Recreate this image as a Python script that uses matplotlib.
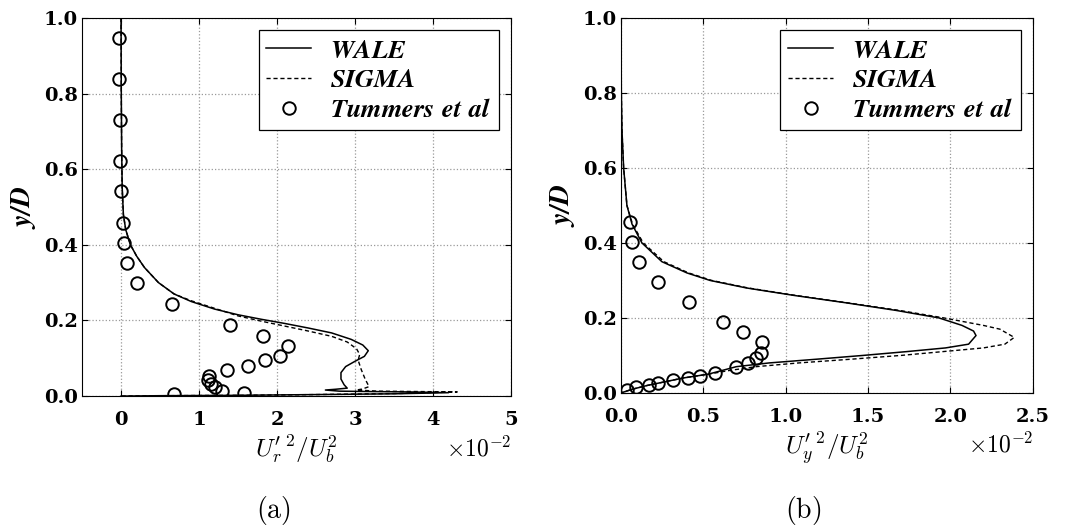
import matplotlib
matplotlib.use('Agg')
import matplotlib.pyplot as plt

plt.rcParams['mathtext.fontset'] = 'cm'
plt.rcParams['font.family'] = 'serif'
plt.rcParams['font.serif'] = ['DejaVu Serif']

# ---- panel (a): radial fluctuation, values in units of 1e-2 ----
exp_a_x = [-0.02, -0.02, -0.01, -0.01, 0.0, 0.02, 0.04, 0.07, 0.21, 0.65, 1.40, 1.82,
           2.14, 2.04, 1.85, 1.63, 1.36, 1.13, 1.11, 1.15, 1.20, 1.29, 0.68, 1.58]
exp_a_y = [0.947, 0.838, 0.729, 0.622, 0.542, 0.457, 0.404, 0.351, 0.298, 0.243, 0.188, 0.160,
           0.133, 0.107, 0.095, 0.079, 0.068, 0.053, 0.042, 0.033, 0.023, 0.013, 0.005, 0.007]

wale_a_x = [0.0, 0.003, 0.008, 0.015, 0.03, 0.06, 0.12, 0.2, 0.3, 0.48, 0.68, 0.9, 1.2, 1.5,
            1.8, 2.1, 2.4, 2.7, 2.95, 3.1, 3.17, 3.12, 3.0, 2.88, 2.82, 2.82, 2.86, 2.9,
            2.75, 2.62, 2.8, 3.2, 3.7, 4.2, 3.5, 2.5, 1.5, 0.5, 0.0]
wale_a_y = [1.0, 0.8, 0.65, 0.55, 0.48, 0.44, 0.40, 0.37, 0.34, 0.30, 0.27, 0.25, 0.23, 0.215,
            0.203, 0.192, 0.18, 0.167, 0.15, 0.135, 0.12, 0.105, 0.092, 0.078, 0.062, 0.045, 0.03, 0.021,
            0.018, 0.016, 0.013, 0.012, 0.011, 0.009, 0.006, 0.004, 0.002, 0.001, 0.0]

sigma_a_x = [0.0, 0.003, 0.008, 0.015, 0.03, 0.06, 0.12, 0.2, 0.3, 0.48, 0.68, 0.9, 1.2, 1.5,
             1.8, 2.1, 2.4, 2.7, 2.9, 3.02, 3.06, 3.04, 3.08, 3.13, 3.18, 3.1, 3.02, 3.3,
             3.8, 4.31, 3.6, 2.5, 1.5, 0.5, 0.0]
sigma_a_y = [1.0, 0.8, 0.65, 0.55, 0.48, 0.44, 0.40, 0.37, 0.34, 0.30, 0.27, 0.252, 0.232, 0.212,
             0.198, 0.185, 0.172, 0.158, 0.143, 0.125, 0.11, 0.095, 0.07, 0.045, 0.025, 0.019, 0.016, 0.013,
             0.012, 0.011, 0.007, 0.004, 0.002, 0.001, 0.0]

# ---- panel (b): wall-normal fluctuation, values in units of 1e-2 ----
exp_b_x = [0.052, 0.069, 0.111, 0.222, 0.41, 0.62, 0.739, 0.853, 0.847, 0.82, 0.769, 0.696,
           0.569, 0.48, 0.406, 0.314, 0.225, 0.173, 0.094, 0.039]
exp_b_y = [0.455, 0.402, 0.348, 0.295, 0.242, 0.189, 0.162, 0.135, 0.107, 0.093, 0.079, 0.068,
           0.052, 0.045, 0.040, 0.035, 0.026, 0.022, 0.015, 0.009]

wale_b_x = [0.0, 0.002, 0.006, 0.016, 0.036, 0.067, 0.127, 0.248, 0.40, 0.54, 0.76, 1.05, 1.37,
            1.67, 1.93, 2.07, 2.14, 2.155, 2.11, 1.97, 1.73, 1.47, 1.19, 0.90, 0.70, 0.53,
            0.38, 0.27, 0.16, 0.07, 0.0]
wale_b_y = [1.0, 0.8, 0.7, 0.6, 0.5, 0.45, 0.40, 0.35, 0.32, 0.30, 0.28, 0.26, 0.24,
            0.22, 0.20, 0.18, 0.165, 0.153, 0.13, 0.12, 0.11, 0.10, 0.09, 0.08, 0.07, 0.05,
            0.04, 0.03, 0.02, 0.01, 0.0]

sigma_b_x = [0.0, 0.002, 0.006, 0.016, 0.036, 0.07, 0.135, 0.26, 0.41, 0.55, 0.77, 1.06, 1.38,
             1.69, 1.96, 2.2, 2.3, 2.387, 2.33, 2.2, 1.95, 1.7, 1.4, 1.08, 0.82, 0.66, 0.53,
             0.38, 0.27, 0.16, 0.07, 0.0]
sigma_b_y = [1.0, 0.8, 0.7, 0.6, 0.5, 0.45, 0.40, 0.35, 0.32, 0.30, 0.28, 0.26, 0.24,
             0.22, 0.20, 0.18, 0.17, 0.148, 0.13, 0.12, 0.11, 0.10, 0.09, 0.08, 0.07, 0.06, 0.05,
             0.04, 0.03, 0.02, 0.01, 0.0]

y_ticks = [0.0, 0.2, 0.4, 0.6, 0.8, 1.0]
a_ticks = [0, 1, 2, 3, 4, 5]
b_ticks = [0.0, 0.5, 1.0, 1.5, 2.0, 2.5]

fig = plt.figure(figsize=(10.67, 5.26), dpi=100)
ax1 = fig.add_axes([0.0769, 0.247, 0.402, 0.719])
ax2 = fig.add_axes([0.582, 0.253, 0.386, 0.713])


def style(ax, xt, xlabels, xlab):
    ax.set_ylim(0, 1)
    ax.set_yticks(y_ticks)
    ax.set_yticklabels(['%.1f' % v for v in y_ticks], fontsize=14, fontweight='bold')
    ax.set_xticks(xt)
    ax.set_xticklabels(xlabels, fontsize=14, fontweight='bold')
    ax.grid(True, linestyle=':', color='#999999', linewidth=0.9)
    ax.tick_params(axis='both', direction='in', top=True, right=True, length=4)
    ax.tick_params(axis='x', pad=11)
    ax.tick_params(axis='y', pad=3)
    ax.set_ylabel(r'$\mathbfit{y/D}$', fontsize=20, labelpad=4)
    ax.set_xlabel(xlab, fontsize=18, labelpad=3)
    ax.text(1.0, -0.105, r'$\times10^{-2}$', transform=ax.transAxes, ha='right', va='top', fontsize=17)
    leg = ax.legend(loc='upper right', fontsize=19, fancybox=False, edgecolor='black',
                    framealpha=1, handlelength=1.7, handletextpad=0.7, borderaxespad=0.45,
                    labelspacing=0.18, borderpad=0.3)
    leg.get_frame().set_linewidth(0.9)


for ax, d in [(ax1, (wale_a_x, wale_a_y, sigma_a_x, sigma_a_y, exp_a_x, exp_a_y)),
              (ax2, (wale_b_x, wale_b_y, sigma_b_x, sigma_b_y, exp_b_x, exp_b_y))]:
    ax.plot(d[0], d[1], 'k-', lw=1.1, label=r'$\mathbfit{WALE}$')
    ax.plot(d[2], d[3], 'k--', lw=1.0, dashes=(3, 2), label=r'$\mathbfit{SIGMA}$')
    ax.plot(d[4], d[5], 'o', mfc='none', mec='black', ms=9, mew=1.4, ls='none',
            label=r'$\mathbfit{Tummers\ et\ al}$')

ax1.set_xlim(-0.5, 5)
ax2.set_xlim(0, 2.5)
style(ax1, a_ticks, ['%d' % v for v in a_ticks], r"$U_r'^{\,2}/U_b^2$")
style(ax2, b_ticks, ['%.1f' % v for v in b_ticks], r"$U_y'^{\,2}/U_b^2$")

fig.text(0.256, 0.030, r'$\mathrm{(a)}$', ha='center', va='center', fontsize=20)
fig.text(0.753, 0.030, r'$\mathrm{(b)}$', ha='center', va='center', fontsize=20)

fig.savefig('out.png', dpi=100)
